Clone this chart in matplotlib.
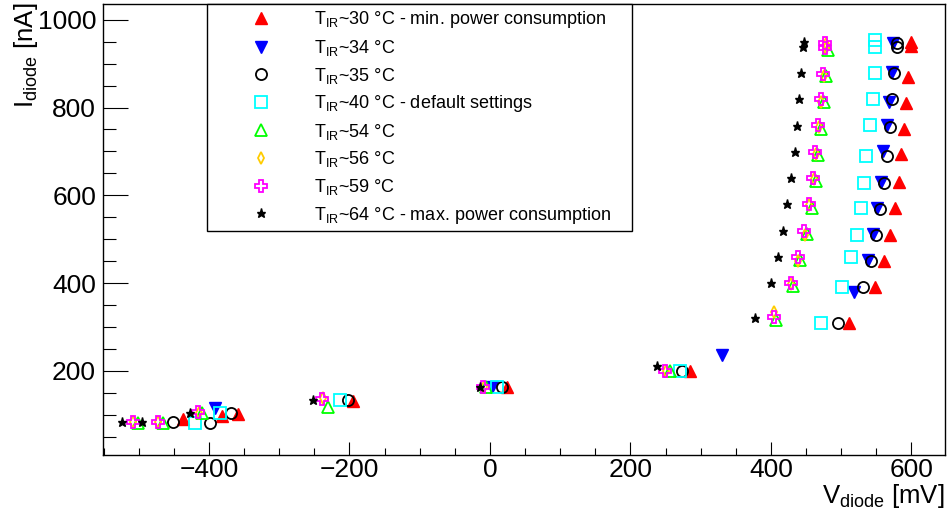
import matplotlib
matplotlib.use('Agg')
import matplotlib.pyplot as plt
from matplotlib.ticker import MultipleLocator

plt.rcParams['font.family'] = ['Liberation Sans', 'DejaVu Sans']
plt.rcParams['mathtext.fontset'] = 'custom'
plt.rcParams['mathtext.rm'] = 'Liberation Sans'
plt.rcParams['mathtext.it'] = 'Liberation Sans:italic'

# diode voltage [mV] and current [nA] for each IR temperature setting
v_30 = [-437, -381, -359, -195, 24, 285, 511, 549, 561, 569, 577, 582, 586, 589, 593, 595, 599, 599]
i_30 = [90, 96, 102, 132, 162, 200, 310, 390, 450, 510, 570, 630, 695, 750, 810, 870, 940, 950]

v_34 = [-391, 3, 330, 519, 538, 546, 551, 557, 560, 565, 568, 572, 574]
i_34 = [114, 164, 237, 380, 452, 512, 571, 630, 702, 760, 812, 880, 948]

v_35 = [-451, -399, -369, -202, 17, 273, 495, 531, 543, 550, 556, 561, 565, 569, 573, 576, 579, 579]
i_35 = [84, 82, 104, 134, 164, 200, 310, 391, 450, 510, 569, 628, 690, 755, 819, 879, 938, 948]

v_40 = [-420, -384, -214, 10, 270, 471, 502, 514, 522, 528, 532, 536, 541, 545, 548, 549, 549]
i_40 = [82, 104, 134, 164, 200, 310, 391, 460, 510, 571, 628, 690, 760, 819, 879, 938, 954]

v_54 = [-501, -465, -410, -230, -5, 256, 408, 432, 442, 451, 458, 464, 467, 471, 475, 478, 481]
i_54 = [82, 82, 104, 118, 162, 200, 316, 393, 452, 511, 572, 632, 692, 752, 812, 872, 932]

v_56 = [-508, -473, -414, -238, -8, 250, 405, 429, 439, 448, 455, 461, 464, 468, 472, 475, 478, 478]
i_56 = [84, 84, 104, 138, 164, 200, 334, 398, 451, 510, 578, 638, 695, 756, 812, 872, 935, 945]

v_59 = [-508, -473, -416, -239, -10, 249, 404, 428, 438, 447, 454, 460, 463, 467, 471, 474, 477, 477]
i_59 = [84, 84, 106, 136, 164, 200, 322, 400, 460, 519, 580, 639, 699, 760, 819, 877, 936, 947]

v_64 = [-524, -495, -427, -252, -14, 238, 377, 400, 410, 417, 423, 428, 434, 437, 440, 443, 446, 447]
i_64 = [84, 84, 104, 134, 164, 212, 321, 400, 460, 519, 580, 639, 699, 758, 819, 879, 938, 950]

labels = [
    r'$\mathrm{T_{IR}}$~30 °C - min. power consumption',
    r'$\mathrm{T_{IR}}$~34 °C',
    r'$\mathrm{T_{IR}}$~35 °C',
    r'$\mathrm{T_{IR}}$~40 °C - default settings',
    r'$\mathrm{T_{IR}}$~54 °C',
    r'$\mathrm{T_{IR}}$~56 °C',
    r'$\mathrm{T_{IR}}$~59 °C',
    r'$\mathrm{T_{IR}}$~64 °C - max. power consumption',
]

series = [(v_30, i_30), (v_34, i_34), (v_35, i_35), (v_40, i_40),
          (v_54, i_54), (v_56, i_56), (v_59, i_59), (v_64, i_64)]

# marker, colour, filled, size
styles = [
    ('^', '#ff0000', True, 8),
    ('v', '#0000ff', True, 8),
    ('o', 'black', False, 8),
    ('s', '#00ffff', False, 8.5),
    ('^', '#00ff00', False, 8),
    ('d', '#ffcc00', False, 5.8),
    ('P', '#ff00ff', False, 8.5),
    ('*', 'black', True, 6.5),
]

fig = plt.figure(figsize=(9.52, 5.12), dpi=100)
ax = fig.add_axes([103 / 952, 1 - 455 / 512, (945 - 103) / 952, (455 - 4) / 512])

handles = []
for (v, i), (m, c, filled, ms), lab in zip(series, styles, labels):
    h, = ax.plot(v, i, linestyle='none', marker=m, markersize=ms,
                 markerfacecolor=c if filled else 'none',
                 markeredgecolor=c, markeredgewidth=1.0 if filled else 1.3,
                 label=lab)
    handles.append(h)

ax.set_xlim(-551, 648)
ax.set_ylim(8, 1036)

ax.xaxis.set_major_locator(MultipleLocator(200))
ax.xaxis.set_minor_locator(MultipleLocator(50))
ax.yaxis.set_major_locator(MultipleLocator(200))
ax.yaxis.set_minor_locator(MultipleLocator(50))
ax.tick_params(which='both', direction='in', top=False, right=False,
               width=0.8, labelsize=19, pad=5)
ax.tick_params(axis='x', which='major', length=9.7, pad=2.5)
ax.tick_params(axis='x', which='minor', length=4.9)
ax.tick_params(axis='y', which='major', length=18)
ax.tick_params(axis='y', which='minor', length=9)
for s in ax.spines.values():
    s.set_linewidth(1.0)

fig.text(945 / 952, 1 - 503 / 512, r'V$_{\mathrm{diode}}$ [mV]',
         ha='right', va='baseline', fontsize=18.5)
fig.text(26 / 952, 1 - 3 / 512, r'I$_{\mathrm{diode}}$ [nA]',
         rotation=90, ha='center', va='top', fontsize=18.5)

leg = ax.legend(handles=handles, loc='upper left', mode='expand',
                bbox_to_anchor=(207 / 952, 1 - 230 / 512, 425 / 952, 226 / 512),
                bbox_transform=fig.transFigure, borderaxespad=0,
                frameon=True, fancybox=False, framealpha=1,
                edgecolor='black', fontsize=13, numpoints=1,
                borderpad=0.3, labelspacing=0.42, handlelength=5.38,
                handletextpad=0.22)
leg.get_frame().set_linewidth(1.0)

fig.savefig('out.png', dpi=100)
